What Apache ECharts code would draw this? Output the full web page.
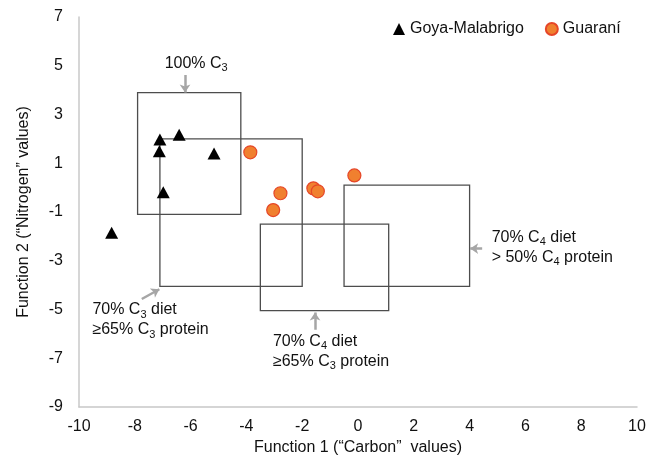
<!DOCTYPE html>
<html>
<head>
<meta charset="utf-8">
<script src="https://cdn.jsdelivr.net/npm/echarts@6/dist/echarts.min.js"></script>
<style>
  html, body { margin: 0; padding: 0; background: #fff; }
  #chart { width: 662px; height: 465px; }
</style>
</head>
<body>
<div id="chart"></div>
<script>
// Discriminant function scores for two archaeological groups
var goyaMalabrigo = [
  [-7.10, 1.97], [-6.41, 2.17], [-7.12, 1.49], [-5.16, 1.40], [-6.98, -0.19], [-8.83, -1.85]
];
var guarani = [
  [-3.86, 1.45], [-2.78, -0.23], [-3.04, -0.92], [-1.60, -0.03], [-1.44, -0.15], [-0.13, 0.50]
];

// Diet reference boxes: [xMin, xMax, yMin, yMax]
var dietBoxes = [
  [-7.9, -4.2, -1.1, 3.9],   // 100% C3
  [-7.1, -2.0, -4.05, 2.0],  // 70% C3 diet, >=65% C3 protein
  [-3.5, 1.1, -5.05, -1.5],  // 70% C4 diet, >=65% C3 protein
  [-0.5, 4.0, -4.05, 0.1]    // 70% C4 diet, >50% C4 protein
];

// Box labels: text, anchor [x, y], align, arrow from -> to
var boxLabels = [
  { text: '{t|100% C}{s|3}', at: [-5.8, 5.08], align: 'center', from: [-6.2, 4.62], to: [-6.2, 3.9] },
  { text: '{t|70% C}{s|3}{t| diet}\n{t|≥65% C}{s|3}{t| protein}', at: [-9.52, -5.43], align: 'left', from: [-7.75, -4.57], to: [-7.12, -4.17] },
  { text: '{t|70% C}{s|4}{t| diet}\n{t|≥65% C}{s|3}{t| protein}', at: [-3.05, -6.73], align: 'left', from: [-1.54, -5.83], to: [-1.54, -5.12] },
  { text: '{t|70% C}{s|4}{t| diet}\n{t|> 50% C}{s|4}{t| protein}', at: [4.79, -2.44], align: 'left', from: [4.45, -2.5], to: [4.02, -2.5] }
];

var xMin = -10, xMax = 10, xStep = 2;
var yMin = -9, yMax = 7, yStep = 2;

var font = '"Liberation Sans", Arial, sans-serif';
var ink = '#111111';
var richText = {
  t: { fontSize: 16, fontFamily: font, color: ink, lineHeight: 20 },
  s: { fontSize: 11, fontFamily: font, color: ink, verticalAlign: 'bottom', lineHeight: 15 }
};

var chart = echarts.init(document.getElementById('chart'), null, { renderer: 'canvas' });

chart.setOption({
  animation: false,
  backgroundColor: '#ffffff',
  grid: { left: 79, right: 25, top: 17, bottom: 58 },
  legend: {
    left: 388, top: 16,
    itemWidth: 12, itemHeight: 12, itemGap: 21,
    textStyle: { fontSize: 16, fontFamily: font, color: ink },
    data: [
      { name: 'Goya-Malabrigo', icon: 'triangle' },
      { name: 'Guaraní', icon: 'circle' }
    ]
  },
  xAxis: {
    type: 'value', min: xMin, max: xMax, interval: xStep,
    name: 'Function 1 (“Carbon”  values)', nameLocation: 'middle', nameGap: 32,
    nameTextStyle: { fontSize: 16, fontFamily: font, color: ink },
    axisLine: { show: true, onZero: false, lineStyle: { color: '#c8c8c8', width: 1.5 } },
    axisTick: { show: false },
    splitLine: { show: false },
    axisLabel: { fontSize: 16, fontFamily: font, color: ink, margin: 12 }
  },
  yAxis: {
    type: 'value', min: yMin, max: yMax, interval: yStep,
    name: 'Function 2 (“Nitrogen” values)', nameLocation: 'middle', nameGap: 47,
    nameTextStyle: { fontSize: 16, fontFamily: font, color: ink },
    axisLine: { show: true, onZero: false, lineStyle: { color: '#c8c8c8', width: 1.5 } },
    axisTick: { show: false },
    splitLine: { show: false },
    axisLabel: { fontSize: 16, fontFamily: font, color: ink, margin: 16 }
  },
  series: [
    {
      type: 'custom',
      name: 'boxes',
      silent: true,
      z: 1,
      data: dietBoxes,
      renderItem: function (params, api) {
        var p1 = api.coord([api.value(0), api.value(3)]);
        var p2 = api.coord([api.value(1), api.value(2)]);
        return {
          type: 'rect',
          shape: { x: p1[0], y: p1[1], width: p2[0] - p1[0], height: p2[1] - p1[1] },
          style: { fill: 'none', stroke: '#4d4d4d', lineWidth: 1.3 }
        };
      }
    },
    {
      type: 'lines',
      coordinateSystem: 'cartesian2d',
      silent: true,
      z: 1,
      symbol: ['none', 'arrow'],
      symbolSize: 8,
      lineStyle: { color: '#a6a6a6', width: 2.5, opacity: 1 },
      data: boxLabels.map(function (b) { return { coords: [b.from, b.to] }; })
    },
    {
      type: 'scatter',
      silent: true,
      z: 1,
      symbolSize: 0,
      itemStyle: { opacity: 1 },
      data: boxLabels.map(function (b) {
        return {
          value: b.at,
          label: {
            show: true, position: 'inside', formatter: b.text, align: b.align,
            verticalAlign: 'middle', color: ink, opacity: 1, rich: richText
          }
        };
      })
    },
    {
      type: 'scatter',
      name: 'Goya-Malabrigo',
      symbol: 'triangle',
      symbolSize: [13, 12],
      z: 3,
      itemStyle: { color: '#000000', opacity: 1 },
      data: goyaMalabrigo
    },
    {
      type: 'scatter',
      name: 'Guaraní',
      symbol: 'circle',
      symbolSize: 13,
      z: 3,
      itemStyle: { color: '#f0802f', borderColor: '#e64628', borderWidth: 1.2, opacity: 1 },
      data: guarani
    }
  ]
});
</script>
</body>
</html>
